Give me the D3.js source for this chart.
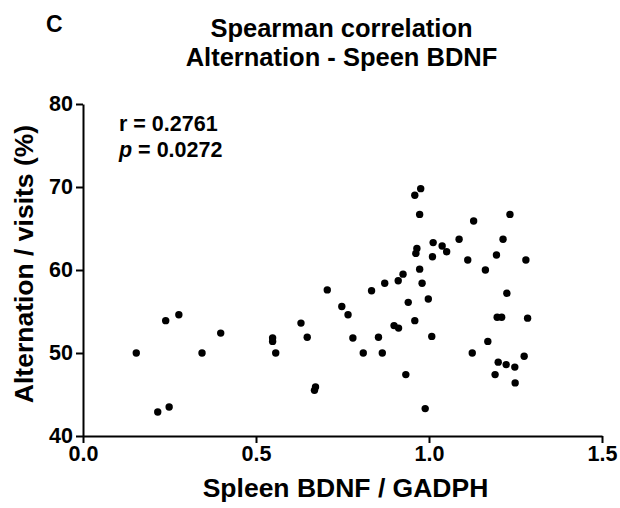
<!DOCTYPE html>
<html>
<head>
<meta charset="utf-8">
<script src="https://cdn.jsdelivr.net/npm/d3@7"></script>
<style>
  body { margin: 0; background: #fff; }
  svg { display: block; font-family: "Liberation Sans", Arial, sans-serif; font-weight: bold; }
  .axis path, .axis line { stroke: #000; stroke-width: 2; }
  .axis text { font-size: 21.5px; font-weight: bold; fill: #000; }
</style>
</head>
<body>
<div id="chart"></div>
<script>
// BDNF (x) vs alternation (y)
const bdnf = [
  0.154, 0.239, 0.277, 0.216, 0.249, 0.344, 0.398,
  0.548, 0.548, 0.557, 0.630, 0.648, 0.706, 0.672, 0.669,
  0.748, 0.766, 0.780, 0.810, 0.834, 0.854, 0.865, 0.872,
  0.899, 0.912, 0.911, 0.925, 0.933, 0.940, 0.959, 0.973,
  0.980, 0.998, 1.008, 0.989, 0.976, 0.959, 0.973, 1.129,
  1.234, 1.012, 1.038, 1.051, 1.087, 1.214, 0.965, 0.962,
  1.010, 1.112, 1.195, 1.280, 1.163, 1.225, 1.197, 1.210,
  1.285, 1.170, 1.125, 1.275, 1.200, 1.223, 1.248, 1.191, 1.249
];
const alternation = [
  50.0, 53.9, 54.6, 42.9, 43.5, 50.0, 52.4,
  51.8, 51.4, 50.0, 53.6, 51.9, 57.6, 45.9, 45.5,
  55.6, 54.6, 51.8, 50.0, 57.5, 51.9, 50.0, 58.4,
  53.3, 53.0, 58.7, 59.5, 47.4, 56.1, 53.9, 60.1,
  58.4, 56.5, 52.0, 43.3, 69.8, 69.0, 66.7, 65.9,
  66.7, 63.3, 62.9, 62.2, 63.7, 63.7, 62.6, 62.0,
  61.6, 61.2, 61.8, 61.2, 60.0, 57.2, 54.3, 54.3,
  54.2, 51.4, 50.0, 49.6, 48.9, 48.6, 48.3, 47.4, 46.4
];
const xTicks = [0, 0.5, 1.0, 1.5];
const yTicks = [40, 50, 60, 70, 80];
const titleLines = ["Spearman correlation", "Alternation - Speen BDNF"];
const statsText = { r: "0.2761", p: "0.0272" };

const W = 620, H = 508;
const margin = { top: 104, right: 18, bottom: 72, left: 83 };
const width = W - margin.left - margin.right;
const height = H - margin.top - margin.bottom;

const svg = d3.select("#chart").append("svg")
  .attr("width", W).attr("height", H);

const g = svg.append("g")
  .attr("transform", `translate(${margin.left},${margin.top})`);

const x = d3.scaleLinear().domain([0, 1.5]).range([0, width]);
const y = d3.scaleLinear().domain([40, 80]).range([height, 0]);

// axes
g.append("g")
  .attr("class", "axis")
  .attr("transform", `translate(0,${height})`)
  .call(d3.axisBottom(x).tickValues(xTicks).tickFormat(d3.format(".1f")).tickSize(7).tickSizeOuter(0).tickPadding(3));

g.append("g")
  .attr("class", "axis")
  .call(d3.axisLeft(y).tickValues(yTicks).tickSize(7).tickSizeOuter(0).tickPadding(3));

// points
g.selectAll("circle.dot")
  .data(bdnf.map((v, i) => [v, alternation[i]]))
  .join("circle")
  .attr("class", "dot")
  .attr("cx", d => x(d[0]))
  .attr("cy", d => y(d[1]))
  .attr("r", 3.7)
  .attr("fill", "#000");

// stats annotation
const ann = g.append("text").attr("font-size", 21.5).attr("fill", "#000");
ann.append("tspan").attr("x", 36).attr("y", 27).text(`r = ${statsText.r}`);
const pLine = ann.append("tspan").attr("x", 36).attr("y", 53);
pLine.append("tspan").attr("font-style", "italic").text("p");
pLine.append("tspan").text(` = ${statsText.p}`);

// title, centred over the plot
svg.selectAll("text.title")
  .data(titleLines)
  .join("text")
  .attr("class", "title")
  .attr("x", margin.left + width / 2 - 1)
  .attr("y", (d, i) => 37 + i * 29)
  .attr("text-anchor", "middle")
  .attr("font-size", 25.5)
  .text(d => d);

// panel letter
svg.append("text")
  .attr("x", 46).attr("y", 32)
  .attr("font-size", 23)
  .text("C");

// axis titles
svg.append("text")
  .attr("x", margin.left + width / 2 + 3).attr("y", 497)
  .attr("text-anchor", "middle")
  .attr("font-size", 26.5)
  .text("Spleen BDNF / GADPH");

svg.append("text")
  .attr("transform", `translate(33,${margin.top + height / 2 - 6}) rotate(-90)`)
  .attr("text-anchor", "middle")
  .attr("font-size", 26.5)
  .text("Alternation / visits (%)");
</script>
</body>
</html>
